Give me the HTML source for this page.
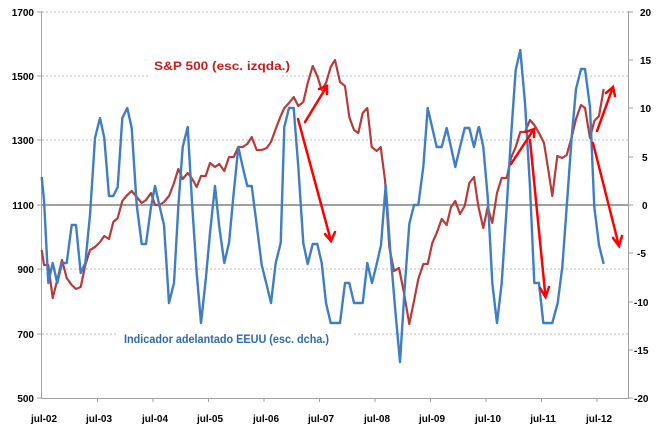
<!DOCTYPE html>
<html><head><meta charset="utf-8"><style>
html,body{margin:0;padding:0;background:#fff;}
svg{display:block;font-family:"Liberation Sans",sans-serif;font-weight:bold;}
</style></head><body>
<svg width="660" height="432" viewBox="0 0 660 432" xmlns="http://www.w3.org/2000/svg">
<g stroke="#bbb" stroke-width="1" stroke-dasharray="2,2">
<line x1="42" y1="12" x2="628" y2="12"/>
<line x1="42" y1="76" x2="628" y2="76"/>
<line x1="42" y1="140" x2="628" y2="140"/>
<line x1="42" y1="269" x2="628" y2="269"/>
<line x1="42" y1="334" x2="628" y2="334"/>
</g>
<line x1="42" y1="205" x2="628" y2="205" stroke="#a0a0a0" stroke-width="2"/>
<rect x="148" y="66" width="134" height="18" fill="#fff"/>
<rect x="118" y="328" width="236" height="18" fill="#fff"/>
<g stroke="#a0a0a0" stroke-width="1">
<line x1="41.5" y1="11" x2="41.5" y2="399"/>
<line x1="628.5" y1="11" x2="628.5" y2="399"/>
<line x1="41" y1="398.5" x2="629" y2="398.5"/>
<line x1="37" y1="12" x2="41" y2="12"/><line x1="37" y1="76" x2="41" y2="76"/><line x1="37" y1="140" x2="41" y2="140"/><line x1="37" y1="205" x2="41" y2="205"/><line x1="37" y1="269" x2="41" y2="269"/><line x1="37" y1="334" x2="41" y2="334"/><line x1="37" y1="398" x2="41" y2="398"/>
<line x1="629" y1="12" x2="633" y2="12"/><line x1="629" y1="60" x2="633" y2="60"/><line x1="629" y1="108" x2="633" y2="108"/><line x1="629" y1="157" x2="633" y2="157"/><line x1="629" y1="205" x2="633" y2="205"/><line x1="629" y1="253" x2="633" y2="253"/><line x1="629" y1="302" x2="633" y2="302"/><line x1="629" y1="350" x2="633" y2="350"/><line x1="629" y1="398" x2="633" y2="398"/>
<line x1="97.5" y1="398" x2="97.5" y2="402"/><line x1="153" y1="398" x2="153" y2="402"/><line x1="208.5" y1="398" x2="208.5" y2="402"/><line x1="264" y1="398" x2="264" y2="402"/><line x1="319.5" y1="398" x2="319.5" y2="402"/><line x1="375" y1="398" x2="375" y2="402"/><line x1="430.5" y1="398" x2="430.5" y2="402"/><line x1="486" y1="398" x2="486" y2="402"/><line x1="541.5" y1="398" x2="541.5" y2="402"/><line x1="597" y1="398" x2="597" y2="402"/>
</g>
<g font-size="10" fill="#000" text-anchor="end">
<text x="34" y="16">1700</text><text x="34" y="80">1500</text><text x="34" y="144">1300</text><text x="34" y="209">1100</text><text x="34" y="273">900</text><text x="34" y="338">700</text><text x="34" y="402">500</text>
</g>
<g font-size="10" fill="#000" text-anchor="start">
<text x="640" y="16">20</text><text x="640" y="64">15</text><text x="640" y="112">10</text><text x="642" y="161">5</text><text x="642" y="209">0</text><text x="637" y="257">-5</text><text x="634" y="306">-10</text><text x="634" y="354">-15</text><text x="634" y="402">-20</text>
</g>
<g font-size="10" fill="#000" text-anchor="middle">
<text x="44" y="422">jul-02</text><text x="99" y="422">jul-03</text><text x="155" y="422">jul-04</text><text x="210" y="422">jul-05</text><text x="266" y="422">jul-06</text><text x="321" y="422">jul-07</text><text x="377" y="422">jul-08</text><text x="432" y="422">jul-09</text><text x="488" y="422">jul-10</text><text x="543" y="422">jul-11</text><text x="599" y="422">jul-12</text>
</g>
<polyline fill="none" stroke="#b83b3b" stroke-width="2.2" stroke-linejoin="round" points="41.7,250 44,265 48.3,265 52.7,298 57.3,280 62,260 66.7,278 71.7,285 76,289 80.7,287 85.3,265 90,250 95,247 100,242 104.3,236 109,239 113.3,222 117.7,218 122.3,201 127.3,195 131.7,191 136.7,197 141.7,203 146,200 151,193 155,205 159.3,205 164,202 169,196 174,183 178.3,169 182.7,179 187.7,173 192.3,179 196.7,187 201,176 205.7,176 210,163 215,167 219.3,164 224.3,171 229,157 233.7,157 238.3,147 242.7,147 247.3,144 251.7,137 256.7,150 261.7,150 266.7,148 271,142 275.7,129 280.7,116 284.3,108 289,103 293.7,97 298.3,106 303.3,102 307.7,83 312.7,66 317.3,76 321.7,90 326,83 330.7,67 335,60 340,82 345,86 349.3,117 354,130 358.3,133 362.7,113 367.3,108 371.7,147 376.7,151 380.7,147 385,180 389.3,247 394,271 399,268 404,293 409.3,324 414,301 418.3,279 423.3,264 427.7,264 432.3,243 436.7,233 441.7,219 446.7,225 451,207 455.3,201 460,214 464.7,206 469.3,183 474,177 478.3,206 483.3,228 487.7,207 492.3,223 497,193 501.7,178 506.7,178 511,158 515.7,147 520.3,132 525,132 530,120 534.3,125 539,133 544,143 548.3,170 552.3,196 557.3,156 562.3,158 566.7,155 571.7,137 576,119 581,105 585,108 590,138 594.3,121 599,116 603.7,89"/>
<polyline fill="none" stroke="#3f7dc4" stroke-width="2.4" stroke-linejoin="round" points="41.7,177 44,200 48.3,283 52.7,263 57.3,283 62,263 66.7,263 71.7,225 76,225 80.7,273 85.3,263 90,215 95,138 100,118 104.3,138 109,196 113.3,196 117.7,187 122.3,118 127.3,108 131.7,128 136.7,205 141.7,244 146,244 151,207 155,186 159.3,205 164,225 169,303 174,283 178.3,207 182.7,147 187.7,127 192.3,207 196.7,273 201,323 205.7,280 210,233 215,186 219.3,227 224.3,263 229,243 233.7,193 238.3,147 242.7,167 247.3,186 251.7,186 256.7,225 261.7,265 266.7,285 271,303 275.7,263 280.7,243 284.3,127 289,108 293.7,108 298.3,167 303.3,243 307.7,264 312.7,244 317.3,244 321.7,263 326,303 330.7,323 340,323 345,283 349.3,283 354,303 362.7,303 367.3,263 372,283 376.7,264 381,245 385.7,185 390,247 395,307 400,362 405,283 409.3,224 414,205 418.3,205 423.3,167 427.7,108 432.3,128 436.7,147 441.7,147 446.7,128 451,147 455.3,167 460,147 464.7,128 469.3,128 474,147 478.3,128 479,127 483.3,147 487.7,197 492.3,283 497,323 501.7,283 506.7,207 511,137 515.7,70 520.3,50 525,103 530,187 534.3,283 539,283 543.3,323 552.3,323 557.7,303 562.3,267 566.7,207 571.7,137 576,89 581,69 585,69 590,107 594.3,207 599,245 603.7,264"/>
<g stroke="#ff0000" stroke-width="2.5" fill="none" stroke-linecap="round">
<line x1="305" y1="122" x2="327" y2="86"/><polyline points="319,89 327,86 327,94"/>
<line x1="298" y1="119" x2="331" y2="241"/><polyline points="325,234 331,241 335,232"/>
<line x1="511" y1="164" x2="534" y2="129"/><polyline points="526,132 534,129 534,137"/>
<line x1="530" y1="140" x2="545.5" y2="297"/><polyline points="540,288 545.5,297 549,287"/>
<line x1="597" y1="131" x2="613" y2="87"/><polyline points="606,93 613,87 615,96"/>
<line x1="593" y1="143" x2="619" y2="246"/><polyline points="613,238 619,246 622,236"/>
</g>
<text x="154" y="70" font-size="11.5" fill="#c0201f" textLength="136" lengthAdjust="spacingAndGlyphs">S&amp;P 500 (esc. izqda.)</text>
<text x="124" y="343" font-size="11.5" fill="#2e6bb0" textLength="205" lengthAdjust="spacingAndGlyphs">Indicador adelantado EEUU (esc. dcha.)</text>
</svg>
</body></html>
